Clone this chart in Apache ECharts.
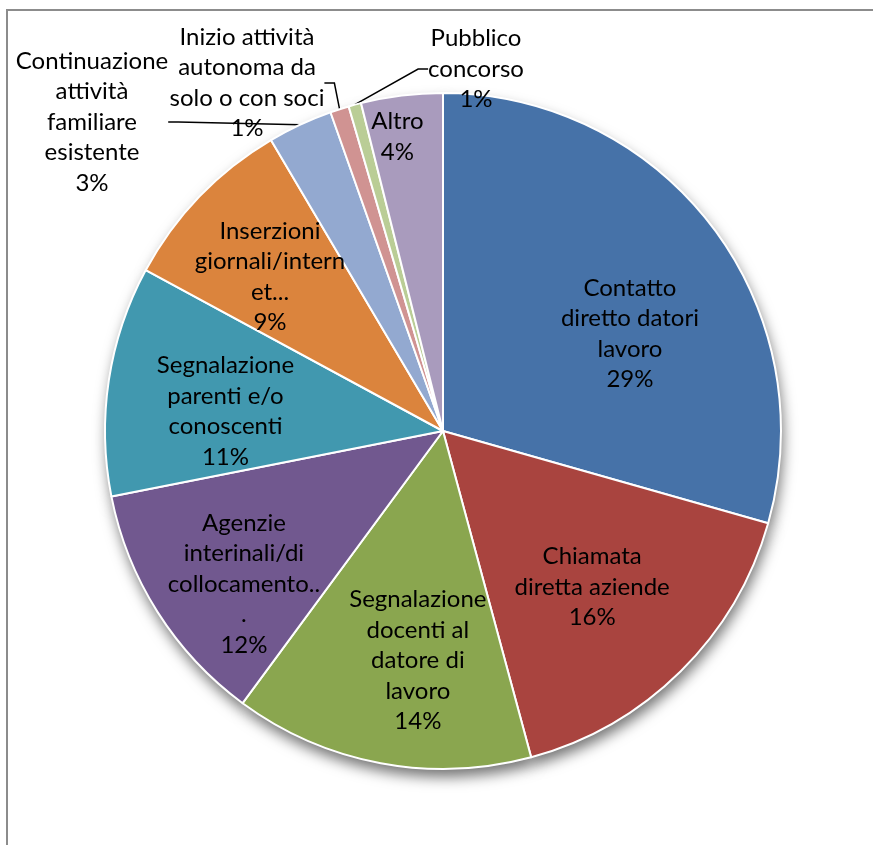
<!DOCTYPE html>
<html><head><meta charset="utf-8">
<script src="https://cdn.jsdelivr.net/npm/echarts@6/dist/echarts.min.js"></script>
<style>html,body{margin:0;padding:0;background:#fff}#c{width:873px;height:845px}</style>
</head><body><div id="c"></div>
<script>
// Categories (as wrapped in the original chart's labels)
const categories = [
  "Contatto\ndiretto datori\nlavoro",
  "Chiamata\ndiretta aziende",
  "Segnalazione\ndocenti al\ndatore di\nlavoro",
  "Agenzie\ninterinali/di\ncollocamento..\n.",
  "Segnalazione\nparenti e/o\nconoscenti",
  "Inserzioni\ngiornali/intern\net...",
  "Continuazione\nattività\nfamiliare\nesistente",
  "Inizio attività\nautonoma da\nsolo o con soci",
  "Pubblico\nconcorso",
  "Altro"
];
// Shares (percent)
const values = [29.4, 16.4, 14.3, 11.8, 11.0, 8.6, 3.1, 0.9, 0.6, 3.9];
const colors = ["#4672A8", "#A9443F", "#8AA64F", "#71588F", "#4198AF", "#DB843D", "#93A9D0", "#D09392", "#BACD96", "#A99BBD"];

// which labels sit outside with leader lines
const outsideIdx = [6, 7, 8];
// layout: outside label centres, inside label nudges
const outsidePos = {6: [92, 122], 7: [247, 83], 8: [476, 69]};
const insideNudge = {0: [13, 34], 1: [-4, 1], 2: [15, 15], 3: [-15, 36], 4: [-2, 13], 5: [-16, -3], 9: [-19, -78]};

const FONT = { fontFamily: "Lato", fontSize: 24, lineHeight: 30.5, color: "#000" };
const CENTER = [443, 431];

const data = categories.map((c, i) => ({ name: c, value: values[i], itemStyle: { color: colors[i] } }));

const chart = echarts.init(document.getElementById('c'), null, { renderer: 'canvas' });
chart.setOption({
  animation: false,
  backgroundColor: '#fff',
  graphic: [{
    type: 'rect', z: 0, silent: true,
    shape: { x: 7, y: 10, width: 1000, height: 1000 },
    style: { fill: 'none', stroke: '#8c8c8c', lineWidth: 2 }
  }],
  series: [
    { // shadow base
      type: 'pie', z: 1, silent: true, center: CENTER, radius: 338, startAngle: 90, clockwise: true,
      data: data.map(d => ({ name: d.name, value: d.value })),
      itemStyle: { color: '#fff', shadowBlur: 14, shadowColor: 'rgba(0,0,0,0.55)', shadowOffsetX: 2, shadowOffsetY: 8 },
      label: { show: false }, labelLine: { show: false }
    },
    { // main pie
      type: 'pie', z: 2, silent: true, center: CENTER, radius: 338, startAngle: 90, clockwise: true,
      percentPrecision: 0, avoidLabelOverlap: false,
      data: data.map((d, i) => Object.assign({}, d, {
        label: { show: outsideIdx.includes(i) },
        labelLine: { show: outsideIdx.includes(i) }
      })),
      itemStyle: { borderColor: '#fff', borderWidth: 2 },
      label: Object.assign({ position: 'outside', formatter: '{b}\n{d}%', align: 'center' }, FONT),
      labelLine: { length: 12, length2: 10, lineStyle: { color: '#000', width: 1.5 } },
      labelLayout: function (p) {
        const pos = outsidePos[p.dataIndex];
        if (pos) return { x: pos[0], y: pos[1], align: 'center', verticalAlign: 'middle' };
      }
    },
    { // inside labels
      type: 'pie', z: 3, silent: true, center: CENTER, radius: 430, startAngle: 90, clockwise: true,
      percentPrecision: 0, avoidLabelOverlap: false,
      data: data.map((d, i) => ({
        name: d.name, value: d.value,
        label: { show: !outsideIdx.includes(i) }
      })),
      itemStyle: { color: 'rgba(0,0,0,0)' },
      label: Object.assign({ position: 'inside', formatter: '{b}\n{d}%', align: 'center' }, FONT),
      labelLine: { show: false },
      labelLayout: function (p) {
        const n = insideNudge[p.dataIndex];
        if (n) return { dx: n[0], dy: n[1] };
      }
    }
  ]
});
</script>
</body></html>
